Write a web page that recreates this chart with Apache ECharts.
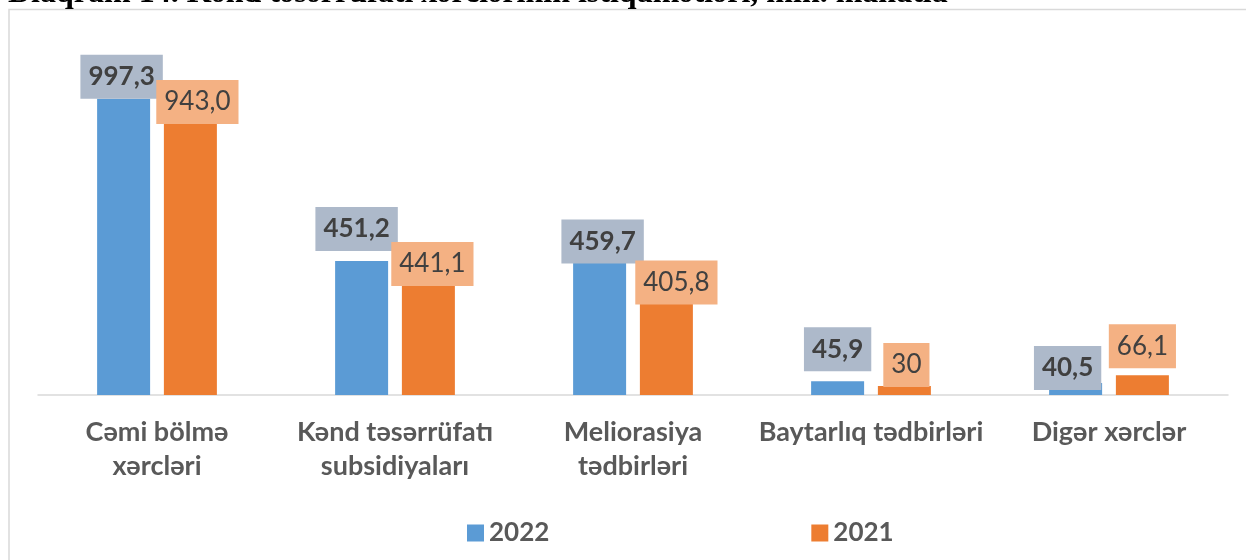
<!DOCTYPE html>
<html>
<head>
<meta charset="utf-8">
<script src="https://cdn.jsdelivr.net/npm/echarts@6/dist/echarts.min.js"></script>
<style>html,body{margin:0;padding:0;background:#fff}#c{width:1246px;height:560px}</style>
</head>
<body>
<div id="c"></div>
<script>
const titleText = 'Diaqram 14. Kənd təsərrüfatı xərclərinin istiqamətləri, min. manatla';
const categories = ['Cəmi bölmə\nxərcləri', 'Kənd təsərrüfatı\nsubsidiyaları', 'Meliorasiya\ntədbirləri', 'Baytarlıq tədbirləri', 'Digər xərclər'];
const seriesNames = ['2022', '2021'];
const values2022 = [997.3, 451.2, 459.7, 45.9, 40.5];
const values2021 = [943.0, 441.1, 405.8, 30, 66.1];
const labels2022 = ['997,3', '451,2', '459,7', '45,9', '40,5'];
const labels2021 = ['943,0', '441,1', '405,8', '30', '66,1'];
// manual label nudges (as in the original, labels were dragged)
const offsets2022 = [[-2, 0], [-5, -10], [3, 5], [0, -10], [-8, 7]];
const offsets2021 = [[7, 9], [4, 22], [10, 30], [2, 1], [0, -7]];

const FONT = 'Lato, "Open Sans", sans-serif';

function buildData(vals, labels, offs) {
  return vals.map((v, i) => ({ value: v, label: { formatter: labels[i], offset: offs[i] } }));
}

const chart = echarts.init(document.getElementById('c'), null, { renderer: 'canvas' });
chart.setOption({
  animation: false,
  backgroundColor: '#fff',
  title: {
    text: titleText,
    left: 8,
    top: -22,
    padding: 0,
    textStyle: { fontFamily: '"Liberation Serif", "Times New Roman", serif', fontWeight: 'bold', fontSize: 32, color: '#000' }
  },
  graphic: [{
    type: 'rect',
    shape: { x: 9, y: 9.5, width: 1300, height: 600 },
    style: { fill: 'none', stroke: '#d9d9d9', lineWidth: 1.5 },
    silent: true
  }],
  legend: {
    data: seriesNames,
    left: 467,
    top: 520,
    padding: 0,
    itemWidth: 17,
    itemHeight: 17,
    itemGap: 262,
    icon: 'rect',
    textStyle: { fontFamily: FONT, fontWeight: 'bold', fontSize: 26, color: '#595959' }
  },
  grid: { left: 38, right: 18, top: 98, bottom: 165, containLabel: false },
  xAxis: {
    type: 'category',
    data: categories,
    axisLine: { lineStyle: { color: '#d9d9d9', width: 1.5 } },
    axisTick: { show: false },
    axisLabel: {
      interval: 0,
      margin: 20,
      fontFamily: FONT,
      fontWeight: 'bold',
      fontSize: 27,
      lineHeight: 34,
      color: '#595959'
    }
  },
  yAxis: {
    type: 'value',
    min: 0,
    max: 1000,
    show: false,
    splitLine: { show: false }
  },
  series: [
    {
      name: seriesNames[0],
      type: 'bar',
      barWidth: 53,
      barGap: '26%',
      itemStyle: { color: '#5b9bd5' },
      label: {
        show: true,
        position: 'top',
        distance: 0,
        fontFamily: FONT,
        fontWeight: 'bold',
        fontSize: 26,
        lineHeight: 26,
        color: '#404040',
        backgroundColor: '#adb9ca',
        padding: [9, 8]
      },
      data: buildData(values2022, labels2022, offsets2022)
    },
    {
      name: seriesNames[1],
      type: 'bar',
      barWidth: 53,
      barGap: '26%',
      itemStyle: { color: '#ed7d31' },
      label: {
        show: true,
        position: 'top',
        distance: 0,
        fontFamily: FONT,
        fontWeight: 'normal',
        fontSize: 26,
        lineHeight: 26,
        color: '#404040',
        backgroundColor: '#f4b183',
        padding: [9, 8]
      },
      data: buildData(values2021, labels2021, offsets2021)
    }
  ]
});
</script>
</body>
</html>
